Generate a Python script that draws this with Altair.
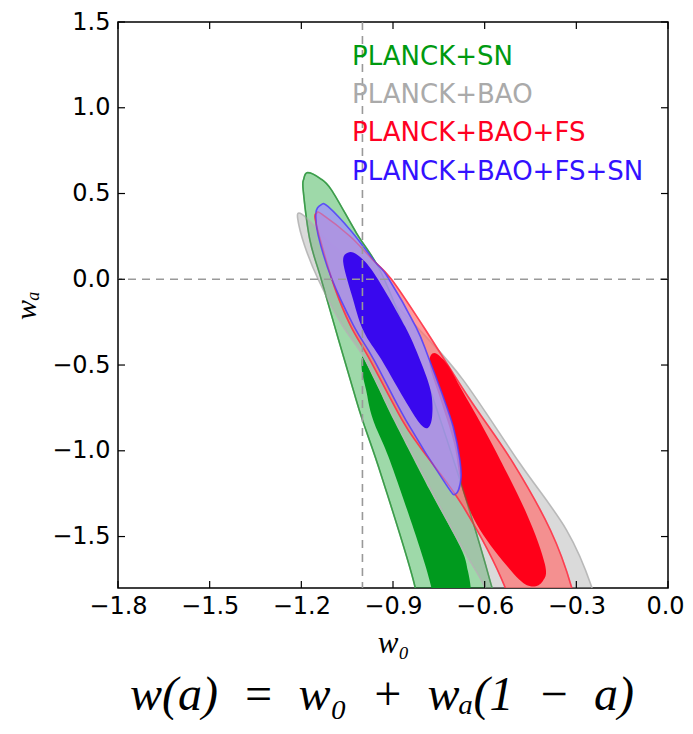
import altair as alt
import pandas as pd

# ---------------- data ----------------
X_TICKS = [-1.8, -1.5, -1.2, -0.9, -0.6, -0.3, 0.0]
Y_TICKS = [-1.5, -1.0, -0.5, 0.0, 0.5, 1.0, 1.5]
X_DOMAIN = [-1.8, 0.0]
Y_DOMAIN = [-1.8, 1.5]
REF_W0 = [-1.0]
REF_WA = [0.0]

LEGEND_LABELS = ["PLANCK+SN", "PLANCK+BAO", "PLANCK+BAO+FS", "PLANCK+BAO+FS+SN"]
LEGEND_COLORS = ["#009a10", "#aaaaaa", "#ff0022", "#3311ff"]

# PLANCK+SN (green) 95% contour
GREEN95_W0 = [-1.180, -1.140, -1.101, -1.019, -0.943, -0.858, -0.790, -0.674, -0.583,
              -0.545, -0.600, -0.720, -0.810, -0.828, -0.937, -1.000, -1.030, -1.078,
              -1.135, -1.172, -1.194, -1.192]
GREEN95_WA = [0.622, 0.590, 0.520, 0.268, 0.054, -0.300, -0.588, -1.210, -1.754,
              -2.050, -2.300, -2.350, -2.100, -1.793, -1.151, -0.821, -0.646, -0.354,
              0.000, 0.229, 0.520, 0.585]
# PLANCK+SN (green) 68% contour
GREEN68_W0 = [-1.000, -0.985, -0.945, -0.898, -0.780, -0.680, -0.655, -0.645, -0.660,
              -0.720, -0.790, -0.774, -0.899, -0.965, -0.988, -1.002]
GREEN68_WA = [-0.450, -0.500, -0.646, -0.821, -1.229, -1.560, -1.700, -1.850, -2.050,
              -2.150, -2.000, -1.800, -1.112, -0.821, -0.646, -0.530]
# PLANCK+BAO (gray) 95% contour
GRAY95_W0 = [-1.204, -1.170, -1.110, -0.930, -0.800, -0.670, -0.485, -0.332, -0.250,
             -0.220, -0.320, -0.470, -0.560, -0.600, -0.675, -0.775, -0.893, -0.990,
             -1.070, -1.145, -1.190, -1.212]
GRAY95_WA = [0.385, 0.335, 0.220, -0.080, -0.320, -0.588, -1.073, -1.462, -1.793,
             -2.050, -2.350, -2.300, -2.000, -1.793, -1.560, -1.229, -0.821, -0.471,
             -0.257, 0.000, 0.200, 0.355]
# PLANCK+BAO+FS (red) 95% contour
RED95_W0 = [-1.150, -1.133, -1.040, -0.970, -0.905, -0.800, -0.654, -0.506, -0.385,
            -0.316, -0.290, -0.360, -0.470, -0.534, -0.670, -0.812, -0.870, -0.975,
            -1.040, -1.090, -1.133, -1.155]
RED95_WA = [0.385, 0.380, 0.250, 0.120, 0.000, -0.277, -0.685, -1.073, -1.462,
            -1.793, -2.050, -2.300, -2.200, -1.793, -1.326, -0.977, -0.821, -0.471,
            -0.267, -0.053, 0.200, 0.355]
# PLANCK+BAO+FS (red) 68% contour
RED68_W0 = [-0.765, -0.720, -0.681, -0.583, -0.463, -0.403, -0.410, -0.450, -0.506,
            -0.615, -0.672, -0.700, -0.745, -0.780]
RED68_WA = [-0.430, -0.500, -0.625, -0.937, -1.365, -1.660, -1.760, -1.790, -1.715,
            -1.462, -1.230, -0.960, -0.700, -0.500]
# PLANCK+BAO+FS+SN (blue) 95% contour
BLUE95_W0 = [-1.135, -1.112, -1.035, -0.959, -0.918, -0.825, -0.785, -0.740, -0.703,
             -0.681, -0.678, -0.695, -0.725, -0.858, -0.962, -1.030, -1.101, -1.145,
             -1.152]
BLUE95_WA = [0.435, 0.423, 0.277, 0.102, 0.015, -0.277, -0.450, -0.665, -0.860,
             -1.054, -1.170, -1.252, -1.200, -0.821, -0.471, -0.267, 0.005, 0.258,
             0.390]
# PLANCK+BAO+FS+SN (blue) 68% contour
BLUE68_W0 = [-1.048, -1.015, -0.960, -0.860, -0.805, -0.775, -0.772, -0.785, -0.810,
             -0.855, -0.937, -0.997, -1.035, -1.063]
BLUE68_WA = [0.155, 0.140, 0.030, -0.277, -0.500, -0.665, -0.800, -0.865, -0.845,
             -0.723, -0.471, -0.300, -0.092, 0.100]

# ---------------- chart ----------------
W, H = 550, 566
TICK_LEN = 7
XS = alt.Scale(domain=X_DOMAIN, nice=False, zero=False)
YS = alt.Scale(domain=Y_DOMAIN, nice=False, zero=False)

X_AXIS = alt.Axis(values=X_TICKS, format=".1f", ticks=False, domain=False, grid=False,
                  labelFont="DejaVu Sans", labelFontSize=24, labelColor="black",
                  labelPadding=6, labelFlush=False, labelOverlap=False,
                  labelOffset={"condition": {"test": "datum.value === 0", "value": -3},
                               "value": 0},
                  title="w₀", titleFont="Liberation Serif", titleFontStyle="italic",
                  titleFontWeight="normal", titleFontSize=31, titleColor="black",
                  titlePadding=10)
Y_AXIS = alt.Axis(values=Y_TICKS, format=".1f", ticks=False, domain=False, grid=False,
                  labelFont="DejaVu Sans", labelFontSize=24, labelColor="black",
                  labelPadding=8, labelFlush=False, labelOverlap=False,
                  title="wₐ", titleFont="Liberation Serif", titleFontStyle="italic",
                  titleFontWeight="normal", titleFontSize=30, titleColor="black",
                  titlePadding=10)


def xenc(field):
    return alt.X(field, type="quantitative", scale=XS, axis=X_AXIS)


def yenc(field):
    return alt.Y(field, type="quantitative", scale=YS, axis=Y_AXIS)


def contour_df(w0, wa):
    return pd.DataFrame({"w0": w0, "wa": wa, "k": list(range(len(w0)))})


def contour(w0, wa, fill, fill_op, stroke=None, sw=1.5, stroke_op=1.0):
    kw = dict(interpolate="cardinal-closed", clip=True, fill=fill, fillOpacity=fill_op)
    if stroke:
        kw.update(stroke=stroke, strokeWidth=sw, strokeOpacity=stroke_op)
    else:
        kw.update(stroke=fill, strokeOpacity=0, strokeWidth=0)
    return alt.Chart(contour_df(w0, wa)).mark_line(**kw).encode(
        x=xenc("w0"), y=yenc("wa"), order=alt.Order("k:Q"))


def outline(w0, wa, stroke, sw, stroke_op):
    return alt.Chart(contour_df(w0, wa)).mark_line(
        interpolate="cardinal-closed", clip=True, stroke=stroke, strokeWidth=sw,
        strokeOpacity=stroke_op).encode(
        x=xenc("w0"), y=yenc("wa"), order=alt.Order("k:Q"))


layers = [
    contour(GREEN95_W0, GREEN95_WA, "#009a1e", 0.38, "#2ea846", 1.6, 0.9),
    contour(GREEN68_W0, GREEN68_WA, "#009a1e", 1.0),
    contour(GRAY95_W0, GRAY95_WA, "#a6a6a6", 0.42, "#b4b4b4", 1.6, 0.9),
    contour(RED95_W0, RED95_WA, "#ff7070", 0.70, "#ff3347", 1.6, 0.85),
    contour(RED68_W0, RED68_WA, "#ff0019", 1.0),
    outline(GREEN95_W0, GREEN95_WA, "#3f8a45", 1.4, 0.55),
    contour(BLUE95_W0, BLUE95_WA, "#a096f8", 0.82, "#4d3dff", 1.6, 0.85),
    outline(RED95_W0, RED95_WA, "#ff3347", 1.3, 0.35),
    contour(BLUE68_W0, BLUE68_WA, "#3300ee", 0.95),
]

# dashed reference lines
layers.append(alt.Chart(pd.DataFrame({"v": REF_W0})).mark_rule(
    color="#999999", strokeWidth=1.6, strokeDash=[8, 6]).encode(x=xenc("v")))
layers.append(alt.Chart(pd.DataFrame({"v": REF_WA})).mark_rule(
    color="#999999", strokeWidth=1.6, strokeDash=[8, 6]).encode(y=yenc("v")))

# inward ticks on all four sides
xt = pd.DataFrame({"t": X_TICKS})
yt = pd.DataFrame({"t": Y_TICKS})
layers.append(alt.Chart(xt).mark_rule(color="black", strokeWidth=1.2).encode(
    x=xenc("t"), y=alt.value(H), y2=alt.value(H - TICK_LEN)))
layers.append(alt.Chart(xt).mark_rule(color="black", strokeWidth=1.2).encode(
    x=xenc("t"), y=alt.value(0), y2=alt.value(TICK_LEN)))
layers.append(alt.Chart(yt).mark_rule(color="black", strokeWidth=1.2).encode(
    y=yenc("t"), x=alt.value(0), x2=alt.value(TICK_LEN)))
layers.append(alt.Chart(yt).mark_rule(color="black", strokeWidth=1.2).encode(
    y=yenc("t"), x=alt.value(W), x2=alt.value(W - TICK_LEN)))

# coloured text legend
for i, (lab, col) in enumerate(zip(LEGEND_LABELS, LEGEND_COLORS)):
    layers.append(alt.Chart(pd.DataFrame({"label": [lab]})).mark_text(
        align="left", baseline="alphabetic", font="DejaVu Sans", fontSize=26,
        color=col).encode(
        x=alt.value(234), y=alt.value(43 + 38.2 * i), text="label:N"))

CAPTION = "w(a)\u2002=\u2002w₀\u2002+\u2002wₐ(1\u2002−\u2002a)"

chart = alt.layer(*layers).properties(
    width=W, height=H,
    autosize=alt.AutoSizeParams(type="none"),
    padding={"left": 110, "top": 14, "right": 17, "bottom": 132},
    title=alt.TitleParams(text=CAPTION, orient="bottom", anchor="middle",
                          frame="group", font="Liberation Serif", fontSize=48,
                          fontStyle="italic", fontWeight="normal", color="black",
                          offset=14, dx=-11),
).configure_view(stroke="black", strokeWidth=1.5)

chart.save("out.html", embed_options={"renderer": "svg", "actions": False})
